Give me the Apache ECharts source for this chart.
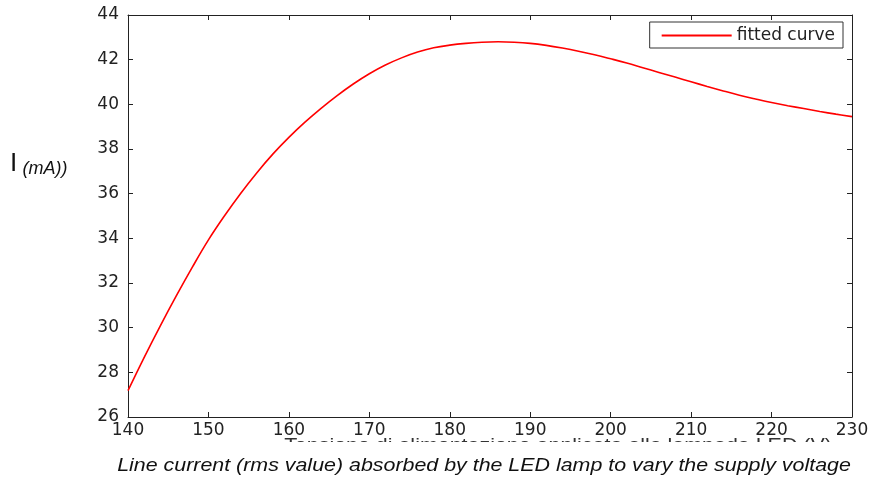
<!DOCTYPE html>
<html><head><meta charset="utf-8">
<script src="https://cdn.jsdelivr.net/npm/echarts@6/dist/echarts.min.js"></script>
<style>html,body{margin:0;padding:0;background:#fff}#c{width:875px;height:479px}</style>
</head><body><div id="c"></div>
<script>
const voltage = [140,142,144,146,148,150,152,154,156,158,160,162,164,166,168,170,172,174,176,178,180,182,184,186,188,190,192,194,196,198,200,202,204,206,208,210,212,214,216,218,220,222,224,226,228,230];
const current = [27.18,28.66,30.07,31.42,32.71,33.93,35.01,36.01,36.93,37.77,38.52,39.20,39.82,40.39,40.91,41.37,41.76,42.08,42.34,42.53,42.65,42.73,42.78,42.80,42.78,42.73,42.64,42.52,42.38,42.22,42.04,41.85,41.64,41.43,41.22,41.01,40.80,40.60,40.41,40.24,40.08,39.94,39.81,39.68,39.56,39.45];
const seriesName = 'fitted curve';
const xTitle = 'Tensione di alimentazione applicata alla lampada LED (V)';
const caption = 'Line current (rms value) absorbed by the LED lamp to vary the supply voltage';

const chart = echarts.init(document.getElementById('c'));
const font = 'Liberation Sans, Arial, sans-serif';
const wide = 'DejaVu Sans, sans-serif';
const axLine = {show: true, lineStyle: {color: '#222', width: 1}};
const tick = {show: true, inside: true, length: 5, lineStyle: {color: '#222'}};
chart.setOption({
  animation: false,
  backgroundColor: '#fff',
  grid: {left: 128, right: 23, top: 15, bottom: 62},
  legend: {
    show: true, right: 32, top: 22,
    data: [{name: seriesName, icon: 'rect'}],
    itemWidth: 70, itemHeight: 2, itemGap: 10,
    padding: [5, 8, 4, 12],
    borderColor: '#333', borderWidth: 1, borderRadius: 0,
    backgroundColor: '#fff',
    textStyle: {fontFamily: wide, fontSize: 17, color: '#222'}
  },
  xAxis: [{
    type: 'value', min: 140, max: 230, interval: 10, position: 'bottom',
    axisLine: axLine, axisTick: tick, splitLine: {show: false},
    axisLabel: {fontFamily: wide, fontSize: 17, color: '#222', margin: 5}
  }, {
    type: 'value', min: 140, max: 230, interval: 10, position: 'top',
    axisLine: axLine, axisTick: tick, splitLine: {show: false}, axisLabel: {show: false}
  }],
  yAxis: [{
    type: 'value', min: 26, max: 44, interval: 2, position: 'left',
    axisLine: axLine, axisTick: tick, splitLine: {show: false},
    axisLabel: {fontFamily: wide, fontSize: 17, color: '#222', margin: 9}
  }, {
    type: 'value', min: 26, max: 44, interval: 2, position: 'right',
    axisLine: axLine, axisTick: tick, splitLine: {show: false}, axisLabel: {show: false}
  }],
  series: [{
    name: seriesName, type: 'line', smooth: 0.4, symbol: 'none',
    xAxisIndex: 0, yAxisIndex: 0,
    lineStyle: {color: '#ff0000', width: 1.6}, itemStyle: {color: '#ff0000'},
    data: voltage.map((v, i) => [v, current[i]])
  }],
  graphic: [
    {type: 'text', left: 10, top: 151, style: {
      text: '{a|I} {b|(mA))}',
      rich: {
        a: {fontFamily: font, fontSize: 26, fill: '#111'},
        b: {fontFamily: font, fontSize: 18, fontStyle: 'italic', fill: '#111', padding: [10, 0, 0, 2]}
      }
    }},
    {type: 'text', x: 558, y: 437, scaleX: 1.19, style: {
      text: xTitle, fontFamily: font, fontSize: 18, fill: '#333', align: 'center', verticalAlign: 'top'
    }, z: 10},
    {type: 'rect', shape: {x: 0, y: 442, width: 875, height: 14}, style: {fill: '#fff'}, z: 20},
    {type: 'text', x: 484, y: 466, scaleX: 1.126, style: {
      text: caption, fontFamily: font, fontSize: 19, fontStyle: 'italic', fill: '#111', align: 'center', verticalAlign: 'middle'
    }, z: 30}
  ]
});
</script></body></html>
